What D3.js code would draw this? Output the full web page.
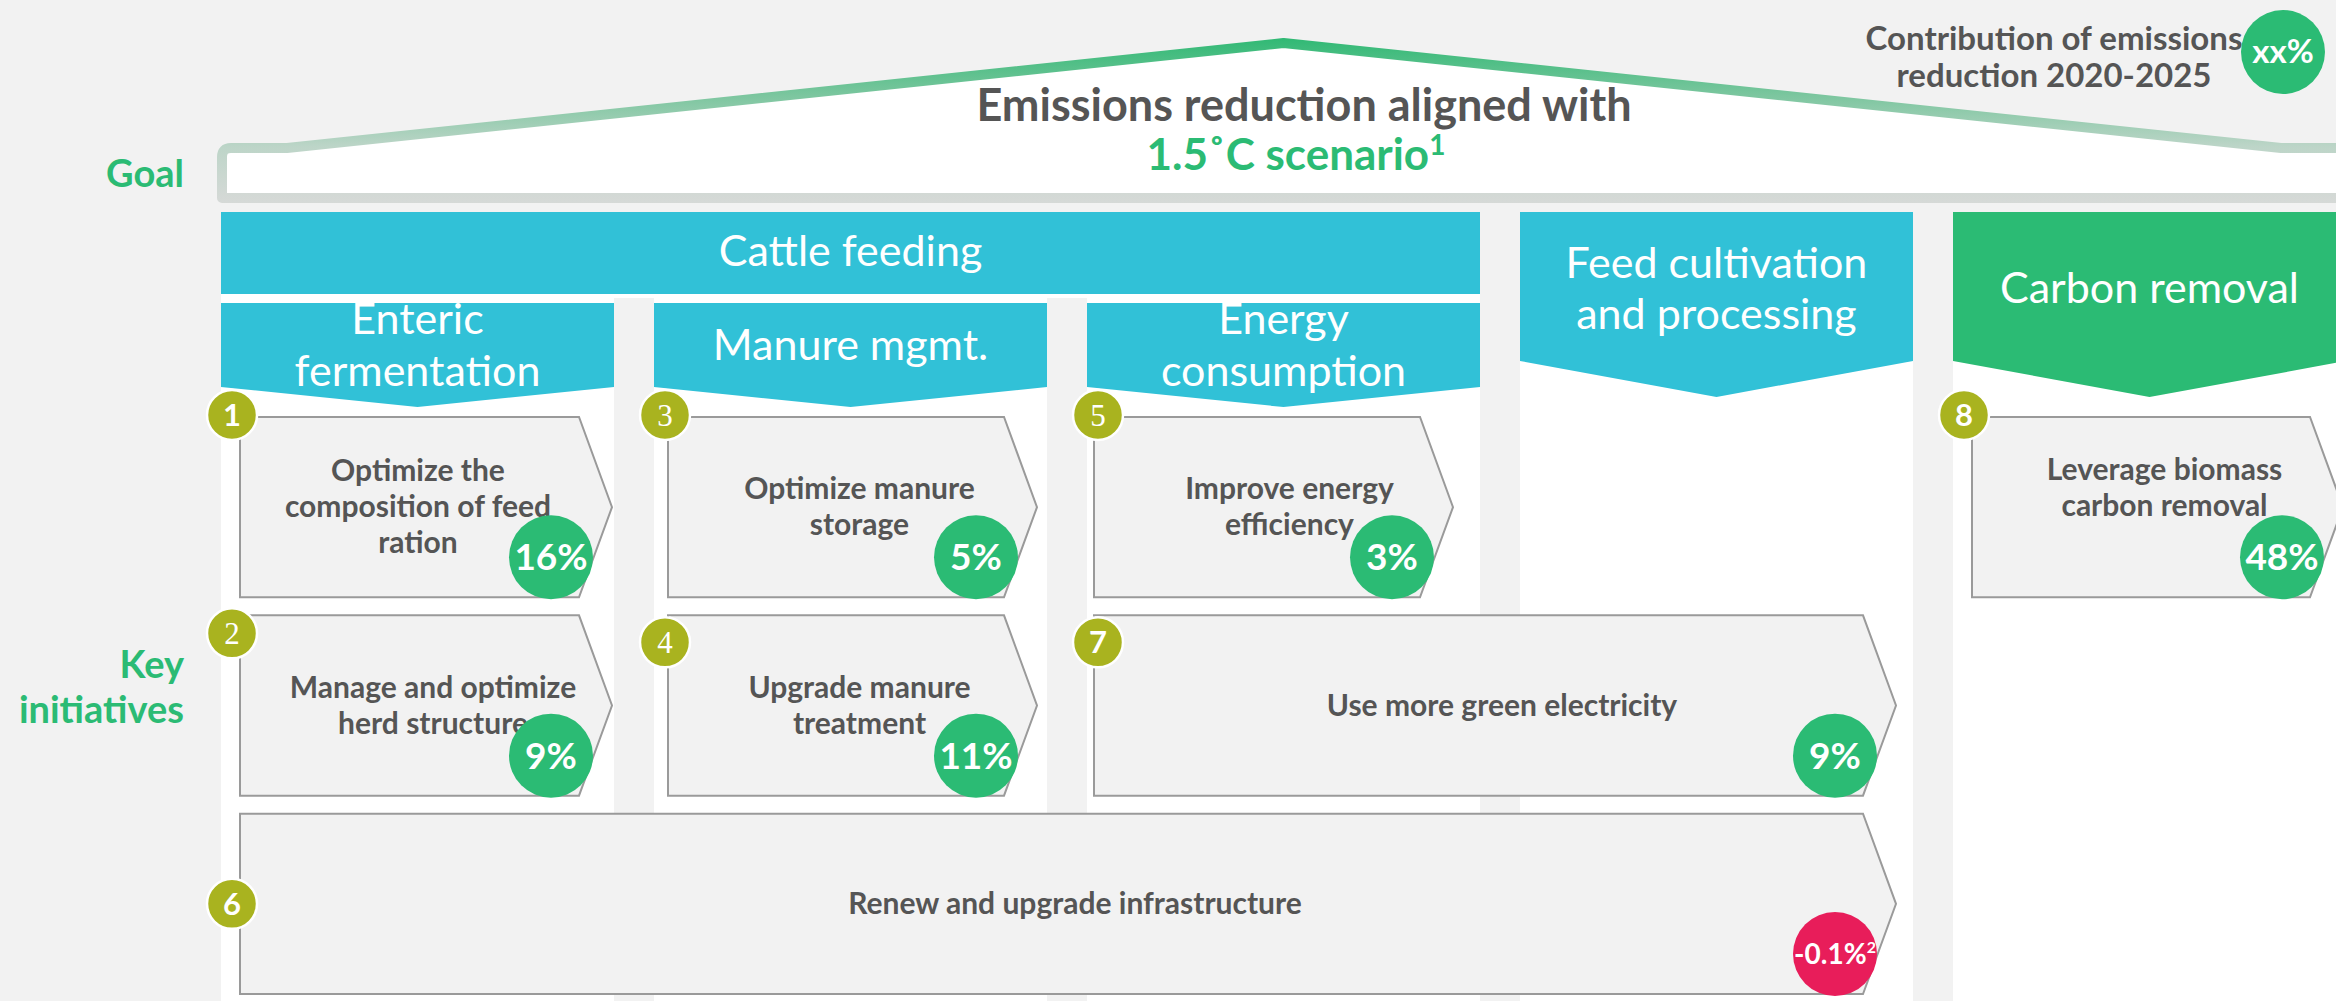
<!DOCTYPE html>
<html>
<head>
<meta charset="utf-8">
<script src="https://cdn.jsdelivr.net/npm/d3@7"></script>
<style>
html, body { margin: 0; padding: 0; background: #f2f2f2; }
svg { display: block; font-family: Lato, "Open Sans", sans-serif; }
</style>
</head>
<body>
<svg id="house" width="2336" height="1001"></svg>
<script>
// ---- data ----
const columnKeys = ["enteric", "manure", "energy", "feed", "carbon"];
const categoryLabels = [["Cattle feeding"], ["Feed cultivation", "and processing"], ["Carbon removal"]];
const categorySpans = [[0, 2], [3, 3], [4, 4]];
const categoryKinds = ["reduction", "reduction", "removal"];
const subHeaderLabels = [["Enteric", "fermentation"], ["Manure mgmt."], ["Energy", "consumption"]];

const initiativeIds = [1, 2, 3, 4, 5, 6, 7, 8];
const initiativeLabels = [
    ["Optimize the", "composition of feed", "ration"],
    ["Manage and optimize", "herd structure"],
    ["Optimize manure", "storage"],
    ["Upgrade manure", "treatment"],
    ["Improve energy", "efficiency"],
    ["Renew and upgrade infrastructure"],
    ["Use more green electricity"],
    ["Leverage biomass", "carbon removal"]
];
const initiativeValues = [16, 9, 5, 11, 3, -0.1, 9, 48];
const initiativeNotes = ["", "", "", "", "", "2", "", ""];
const initiativeCols = [[0, 0], [0, 0], [1, 1], [1, 1], [2, 2], [0, 3], [2, 3], [4, 4]];
const initiativeRows = [1, 2, 1, 2, 1, 3, 2, 1];

const goalLines = ["Emissions reduction aligned with", "1.5˚C scenario"];
const goalNote = "1";
const rowLabels = [["Goal"], ["Key", "initiatives"]];
const legendLines = ["Contribution of emissions", "reduction 2020-2025"];
const legendValue = "xx%";

// ---- styles ----
const cyan = "#31c1d7", green = "#2bbb74", olive = "#a9b31f", red = "#e81d5a", ink = "#555555";
const boxInsets = {1: [19, 2], 2: [19, 2], 3: [14, 10], 4: [14, 10], 5: [7, 27], 6: [19, 17], 7: [7, 17], 8: [19, 3]};
const badgeDy = {1: -2, 2: 18, 3: -2, 4: 27, 5: -2, 6: null, 7: 27, 8: -2};
const textDx = {1: -8, 5: 16};
const textDy = {8: -19};
const serifBadges = [2, 3, 4, 5];
const headSize = 43;

const svg = d3.select("svg#house");

const x = d3.scaleBand()
    .domain(d3.range(columnKeys.length))
    .range([221, 2346])
    .paddingInner(40 / 433)
    .paddingOuter(0);
const bw = x.bandwidth();
const y = d3.scaleBand()
    .domain([1, 2, 3])
    .range([417, 994])
    .paddingInner(18 / 198);
const bh = y.bandwidth();

// ---- roof / goal box ----
const defs = svg.append("defs");
const grad = defs.append("linearGradient")
    .attr("id", "roofGrad")
    .attr("gradientUnits", "userSpaceOnUse")
    .attr("x1", 0).attr("x2", 0).attr("y1", 38).attr("y2", 203);
grad.append("stop").attr("offset", 0).attr("stop-color", "#30b974");
grad.append("stop").attr("offset", 0.35).attr("stop-color", "#7cc69f");
grad.append("stop").attr("offset", 0.66).attr("stop-color", "#bdd5c8");
grad.append("stop").attr("offset", 1).attr("stop-color", "#d6d9d7");

const left = x.range()[0] + 1, right = x.range()[1];
const mid = (x.range()[0] + x.range()[1]) / 2;
const roof = d3.path();
roof.moveTo(left, 198);
roof.lineTo(left, 157);
roof.quadraticCurveTo(left, 148, left + 9, 148);
roof.lineTo(left + 65, 148);
roof.lineTo(mid, 43);
roof.lineTo(right - 65, 148);
roof.lineTo(right + 30, 148);
roof.lineTo(right + 30, 198);
roof.closePath();
svg.append("path")
    .attr("d", roof.toString())
    .attr("fill", "white")
    .attr("stroke", "url(#roofGrad)")
    .attr("stroke-width", 10)
    .attr("stroke-linejoin", "round");

svg.append("text")
    .attr("x", 1304).attr("y", 121)
    .attr("text-anchor", "middle")
    .attr("font-size", 45).attr("font-weight", 700)
    .attr("fill", ink)
    .text(goalLines[0]);
const g2 = svg.append("text")
    .attr("x", 1296).attr("y", 170)
    .attr("text-anchor", "middle")
    .attr("font-size", 44).attr("font-weight", 700)
    .attr("fill", green);
g2.append("tspan").text(goalLines[1]);
g2.append("tspan").attr("font-size", 28).attr("dy", -15).text(goalNote);

// legend top right
svg.selectAll("text.legend")
    .data(legendLines)
    .join("text")
    .attr("class", "legend")
    .attr("x", 2054)
    .attr("y", (d, i) => 50 + i * 37)
    .attr("text-anchor", "middle")
    .attr("font-size", 33).attr("font-weight", 700)
    .attr("fill", ink)
    .text(d => d);
svg.append("circle").attr("cx", 2283).attr("cy", 52).attr("r", 42).attr("fill", green);
svg.append("text")
    .attr("x", 2283).attr("y", 63)
    .attr("text-anchor", "middle")
    .attr("font-size", 33).attr("font-weight", 700)
    .attr("fill", "white")
    .text(legendValue);

// row labels
const rowLabelY = [[187], [678, 723]];
rowLabels.forEach((lines, r) => {
    svg.selectAll(null)
        .data(lines)
        .join("text")
        .attr("x", 184)
        .attr("y", (d, i) => rowLabelY[r][i])
        .attr("text-anchor", "end")
        .attr("font-size", 38).attr("font-weight", 700)
        .attr("fill", green)
        .text(d => d);
});

// ---- column backgrounds ----
svg.selectAll("rect.col")
    .data(columnKeys)
    .join("rect")
    .attr("class", "col")
    .attr("x", (d, i) => x(i))
    .attr("y", 212)
    .attr("width", bw)
    .attr("height", 1001 - 212)
    .attr("fill", "white");

// ---- category headers ----
categorySpans.forEach((span, c) => {
    const x0 = x(span[0]), x1 = x(span[1]) + bw, cx = (x0 + x1) / 2;
    const fill = categoryKinds[c] === "removal" ? green : cyan;
    const lines = categoryLabels[c];
    if (span[0] !== span[1]) {
        svg.append("rect").attr("x", x0).attr("y", 212).attr("width", x1 - x0).attr("height", 86).attr("fill", "white");
        svg.append("rect").attr("x", x0).attr("y", 212).attr("width", x1 - x0).attr("height", 82).attr("fill", fill);
        svg.append("text")
            .attr("x", cx).attr("y", 266)
            .attr("text-anchor", "middle")
            .attr("font-size", headSize)
            .attr("fill", "white")
            .text(lines[0]);
    } else {
        svg.append("polygon")
            .attr("points", [[x0, 212], [x1, 212], [x1, 361], [cx, 397], [x0, 361]].join(" "))
            .attr("fill", fill);
        svg.selectAll(null)
            .data(lines)
            .join("text")
            .attr("x", cx)
            .attr("y", (d, i) => 303 + (i - (lines.length - 1) / 2) * 51)
            .attr("text-anchor", "middle")
            .attr("font-size", headSize)
            .attr("fill", "white")
            .text(d => d);
    }
});

// sub headers under cattle feeding
subHeaderLabels.forEach((lines, i) => {
    const x0 = x(i), x1 = x(i) + bw, cx = (x0 + x1) / 2;
    svg.append("polygon")
        .attr("points", [[x0, 303], [x1, 303], [x1, 387], [cx, 407], [x0, 387]].join(" "))
        .attr("fill", cyan);
    svg.selectAll(null)
        .data(lines)
        .join("text")
        .attr("x", cx)
        .attr("y", (d, j) => 360 + (j - (lines.length - 1) / 2) * 52)
        .attr("text-anchor", "middle")
        .attr("font-size", headSize)
        .attr("fill", "white")
        .text(d => d);
});

// ---- initiatives ----
const items = initiativeIds.map((id, i) => {
    const [c0, c1] = initiativeCols[i];
    const L = x(c0) + boxInsets[id][0];
    const tip = x(c1) + bw - boxInsets[id][1];
    const T = y(initiativeRows[i]);
    return {
        id, L, tip, R: tip - 33, T, B: T + bh, colLeft: x(c0),
        lines: initiativeLabels[i], value: initiativeValues[i], note: initiativeNotes[i]
    };
});

const boxes = svg.selectAll("g.initiative")
    .data(items)
    .join("g")
    .attr("class", "initiative");

boxes.append("polygon")
    .attr("points", d => [[d.L, d.T], [d.R, d.T], [d.tip, (d.T + d.B) / 2], [d.R, d.B], [d.L, d.B]].join(" "))
    .attr("fill", "#f2f2f2")
    .attr("stroke", "#9a9a9a")
    .attr("stroke-width", 2);

boxes.each(function (d) {
    const g = d3.select(this);
    const cx = (d.L + d.tip) / 2 + (textDx[d.id] !== undefined ? textDx[d.id] : 7);
    const cy = (d.T + d.B) / 2 + 10 + (textDy[d.id] || 0);
    g.selectAll("text.label")
        .data(d.lines)
        .join("text")
        .attr("class", "label")
        .attr("x", cx)
        .attr("y", (t, j) => cy + (j - (d.lines.length - 1) / 2) * 36)
        .attr("text-anchor", "middle")
        .attr("font-size", 30).attr("font-weight", 700)
        .attr("fill", ink)
        .text(t => t);
});

// value bubbles
boxes.append("circle")
    .attr("cx", d => d.R - 28)
    .attr("cy", d => d.B - 40)
    .attr("r", 42)
    .attr("fill", d => d.value < 0 ? red : green);
const vt = boxes.append("text")
    .attr("x", d => d.R - 28)
    .attr("y", d => d.B - 40 + (d.note ? 10 : 13))
    .attr("text-anchor", "middle")
    .attr("font-weight", 700)
    .attr("font-size", d => d.note ? 28 : 37)
    .attr("fill", "white");
vt.append("tspan").text(d => d.value + "%");
vt.append("tspan")
    .attr("font-size", 16)
    .attr("dy", -11)
    .text(d => d.note);

// number badges
boxes.append("circle")
    .attr("cx", d => d.colLeft + 11)
    .attr("cy", d => badgeDy[d.id] === null ? (d.T + d.B) / 2 : d.T + badgeDy[d.id])
    .attr("r", 25)
    .attr("fill", olive)
    .attr("stroke", "white")
    .attr("stroke-width", 2.5);
boxes.append("text")
    .attr("x", d => d.colLeft + 11)
    .attr("y", d => (badgeDy[d.id] === null ? (d.T + d.B) / 2 : d.T + badgeDy[d.id]) + 11)
    .attr("text-anchor", "middle")
    .attr("font-size", 31)
    .attr("font-weight", d => serifBadges.includes(d.id) ? 400 : 700)
    .attr("font-family", d => serifBadges.includes(d.id) ? "'Liberation Serif', serif" : null)
    .attr("fill", "white")
    .text(d => d.id);
</script>
</body>
</html>
